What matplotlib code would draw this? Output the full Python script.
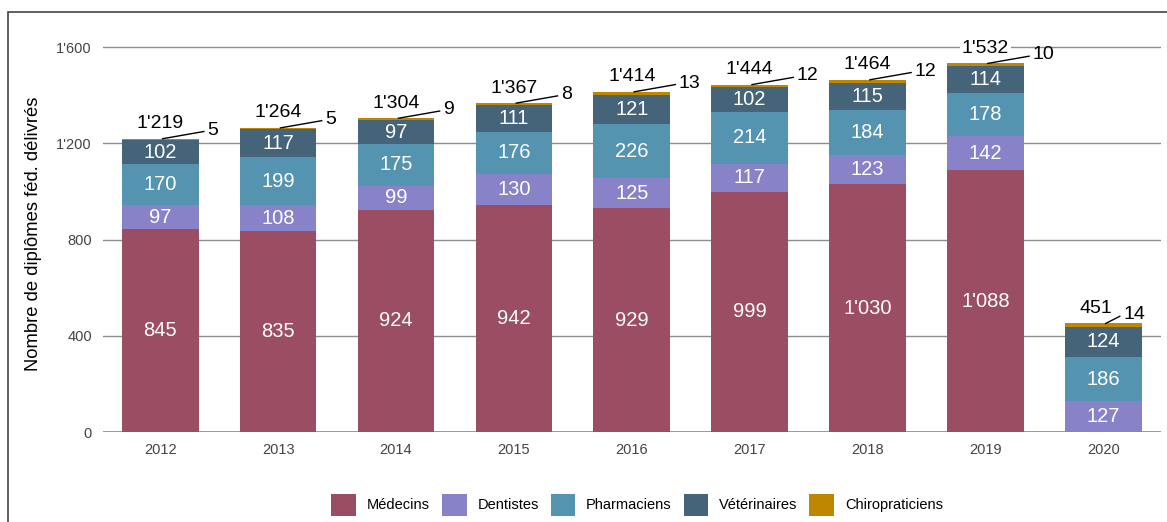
import matplotlib.pyplot as plt
import numpy as np
from matplotlib.patches import Rectangle

years = ['2012', '2013', '2014', '2015', '2016', '2017', '2018', '2019', '2020']
medecins = [845, 835, 924, 942, 929, 999, 1030, 1088, 0]
dentistes = [97, 108, 99, 130, 125, 117, 123, 142, 127]
pharmaciens = [170, 199, 175, 176, 226, 214, 184, 178, 186]
veterinaires = [102, 117, 97, 111, 121, 102, 115, 114, 124]
chiro = [5, 5, 9, 8, 13, 12, 12, 10, 14]

names = ['Médecins', 'Dentistes', 'Pharmaciens', 'Vétérinaires', 'Chiropraticiens']
colors = ['#9a4d63', '#8882c8', '#5494b0', '#456479', '#bf8700']


def fmt(v):
    return f'{v:,}'.replace(',', "'")


plt.rcParams['font.family'] = ['Liberation Sans', 'DejaVu Sans']

fig = plt.figure(figsize=(11.67, 5.22), dpi=100)
ax = fig.add_axes([0.0883, 0.1724, 0.9066, 0.7605])

x = np.arange(len(years))
series = [medecins, dentistes, pharmaciens, veterinaires, chiro]
bottom = np.zeros(len(years))
for vals, name, col in zip(series, names, colors):
    vals = np.array(vals)
    ax.bar(x, vals, 0.65, bottom=bottom, color=col, label=name, zorder=3)
    if name != 'Chiropraticiens':
        for xi, b, v in zip(x, bottom, vals):
            if v > 0:
                ax.text(xi, b + v / 2, fmt(int(v)), ha='center', va='center',
                        color='white', fontsize=14.5, zorder=4)
    bottom = bottom + vals

totals = bottom
for xi, t, c in zip(x, totals, chiro):
    # last bar: shorter leader so the label stays inside the plot
    off = 0.37 if xi < len(years) - 1 else 0.14
    ax.text(xi - (0.06 if xi == len(years) - 1 else 0), t + 62, fmt(int(t)),
            ha='center', va='center', fontsize=14, zorder=5,
            bbox=dict(facecolor='white', edgecolor='none', pad=1.5))
    ax.plot([xi + 0.02, xi + off], [t, t + 30], color='black', lw=1, zorder=5)
    ax.text(xi + off + 0.03, t + 36, str(c), ha='left', va='center', fontsize=14,
            zorder=5)

ax.set_xlim(-0.485, 8.49)
ax.set_ylim(0, 1650)
ax.set_yticks([0, 400, 800, 1200, 1600])
ax.set_yticklabels([fmt(v) for v in [0, 400, 800, 1200, 1600]])
ax.set_xticks(x)
ax.set_xticklabels(years)
ax.tick_params(length=0, labelsize=10.5, colors='#444444', pad=8)
ax.grid(axis='y', color='#8c8c8c', lw=1, zorder=0)
ax.axhline(0, color='#8c8c8c', lw=1.2, zorder=1)
for s in ax.spines.values():
    s.set_visible(False)
ax.set_ylabel('Nombre de diplômes féd. délivrés', fontsize=13.2, labelpad=10)

fig.legend(loc='center', bbox_to_anchor=(0.546, 0.033), ncol=5, frameon=False,
           fontsize=10.5, handlelength=1.7, handleheight=1.9, columnspacing=0.8,
           handletextpad=0.75)

fig.patches.append(Rectangle((8 / 1167, -0.1), 1.2, (522 - 12) / 522 + 0.1,
                             transform=fig.transFigure, fill=False,
                             edgecolor='#444444', lw=1.2))

fig.savefig('out.png', dpi=100)
